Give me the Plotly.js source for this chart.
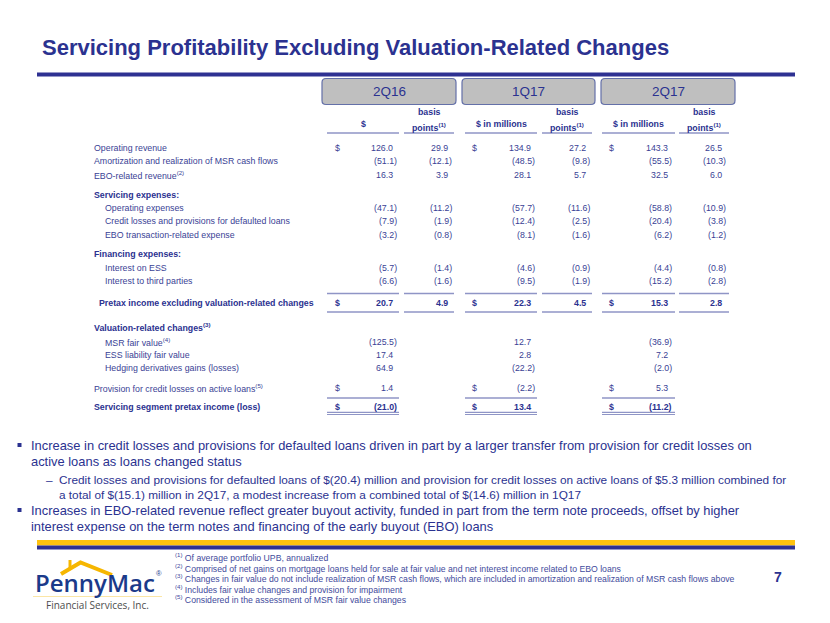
<!DOCTYPE html>
<html><head><meta charset="utf-8">
<script src="https://cdn.plot.ly/plotly-3.0.1.min.js"></script>
<style>html,body{margin:0;padding:0;background:#fff}#chart{width:830px;height:623px}</style>
</head><body><div id="chart"></div>
<script>
// ---------- DATA ----------
const periods = ['2Q16', '1Q17', '2Q17'];
const dollarHeaders = ['$', '$ in millions', '$ in millions'];
const rowLabels = [
  'Operating revenue',
  'Amortization and realization of MSR cash flows',
  'EBO-related revenue<sup>(2)</sup>',
  'Servicing expenses:',
  'Operating expenses',
  'Credit losses and provisions for defaulted loans',
  'EBO transaction-related expense',
  'Financing expenses:',
  'Interest on ESS',
  'Interest to third parties',
  'Pretax income excluding valuation-related changes',
  'Valuation-related changes<sup>(3)</sup>',
  'MSR fair value<sup>(4)</sup>',
  'ESS liability fair value',
  'Hedging derivatives gains (losses)',
  'Provision for credit losses on active loans<sup>(5)</sup>',
  'Servicing segment pretax income (loss)'
];
const q216Dollars = [126.0, -51.1, 16.3, null, -47.1, -7.9, -3.2, null, -5.7, -6.6, 20.7, null, -125.5, 17.4, 64.9, 1.4, -21.0];
const q216Bps     = [29.9, -12.1, 3.9, null, -11.2, -1.9, -0.8, null, -1.4, -1.6, 4.9, null, null, null, null, null, null];
const q117Dollars = [134.9, -48.5, 28.1, null, -57.7, -12.4, -8.1, null, -4.6, -9.5, 22.3, null, 12.7, 2.8, -22.2, -2.2, 13.4];
const q117Bps     = [27.2, -9.8, 5.7, null, -11.6, -2.5, -1.6, null, -0.9, -1.9, 4.5, null, null, null, null, null, null];
const q217Dollars = [143.3, -55.5, 32.5, null, -58.8, -20.4, -6.2, null, -4.4, -15.2, 15.3, null, -36.9, 7.2, -2.0, 5.3, -11.2];
const q217Bps     = [26.5, -10.3, 6.0, null, -10.9, -3.8, -1.2, null, -0.8, -2.8, 2.8, null, null, null, null, null, null];
const dollarSignRows = [0, 10, 15, 16];

const titleText = 'Servicing Profitability Excluding Valuation-Related Changes';
const bulletLines = [
  'Increase in credit losses and provisions for defaulted loans driven in part by a larger transfer from provision for credit losses on',
  'active loans as loans changed status',
  'Credit losses and provisions for defaulted loans of $(20.4) million and provision for credit losses on active loans of $5.3 million combined for',
  'a total of $(15.1) million in 2Q17, a modest increase from a combined total of $(14.6) million in 1Q17',
  'Increases in EBO-related revenue reflect greater buyout activity, funded in part from the term note proceeds, offset by higher',
  'interest expense on the term notes and financing of the early buyout (EBO) loans'
];
const footnotes = [
  '<sup>(1)</sup> Of average portfolio UPB, annualized',
  '<sup>(2)</sup> Comprised of net gains on mortgage loans held for sale at fair value and net interest income related to EBO loans',
  '<sup>(3)</sup> Changes in fair value do not include realization of MSR cash flows, which are included in amortization and realization of MSR cash flows above',
  '<sup>(4)</sup> Includes fair value changes and provision for impairment',
  '<sup>(5)</sup> Considered in the assessment of MSR fair value changes'
];
const pageNumber = '7';

// ---------- LAYOUT / STYLE ----------
const navy = '#2b3290';
const txt = '#3a3f95';
const lineC = '#8f95c6';
const sans = '"Liberation Sans", Arial, sans-serif';
const logoFont = '"Open Sans", "Noto Sans", sans-serif';
const rowY = [147.5, 160.7, 174.5, 195, 208, 221.3, 234.7, 254.3, 268, 281.2, 302.8, 326.5, 341.8, 355, 368.2, 388, 407.2];
const rowLevel = [0,0,0,0,1,1,1,0,1,1,0.5,0,1,1,1,0,0];
const rowBold = [0,0,0,1,0,0,0,1,0,0,1,1,0,0,0,0,1];
const labelX = [92, 102.5, 97];
const boxes = [[322, 456], [462, 595], [601, 735]];
const dSpan = [[327, 399], [465, 537], [602, 675]];
const bSpan = [[404, 454], [542, 592], [679, 729]];
const signX = [333, 470, 607];
const dRight = [398.5, 536.5, 673.5];
const bRight = [453.5, 591.5, 727.5];

const ann = [];
const shapes = [];
function A(x, y, text, o) {
  ann.push(Object.assign({x, y, text, xref: 'x', yref: 'y', showarrow: false,
    xanchor: 'left', yanchor: 'middle', font: {family: sans, size: 8.8, color: txt}}, o || {}));
}
function L(x0, x1, y, w, c) {
  shapes.push({type: 'line', xref: 'x', yref: 'y', x0, x1, y0: y, y1: y, line: {color: c || lineC, width: w || 1.6}});
}

// title + rule
A(40, 47, '<b>' + titleText + '</b>', {font: {family: sans, size: 22, color: navy}});
shapes.push({type: 'rect', xref: 'x', yref: 'y', x0: 37, x1: 795, y0: 72.5, y1: 76.5, fillcolor: '#2e3192', line: {width: 0}});

// period boxes
boxes.forEach((b, i) => {
  const x0 = b[0], x1 = b[1], y0 = 78.5, y1 = 104.5, r = 4;
  shapes.push({type: 'path', xref: 'x', yref: 'y',
    path: `M ${x0 + r} ${y0} L ${x1 - r} ${y0} Q ${x1} ${y0} ${x1} ${y0 + r} L ${x1} ${y1 - r} Q ${x1} ${y1} ${x1 - r} ${y1} L ${x0 + r} ${y1} Q ${x0} ${y1} ${x0} ${y1 - r} L ${x0} ${y0 + r} Q ${x0} ${y0} ${x0 + r} ${y0} Z`,
    fillcolor: '#bfbfbf', line: {color: '#6470a8', width: 1.2}});
  A((x0 + x1) / 2, 91.5, periods[i], {xanchor: 'center', font: {family: sans, size: 13.5, color: navy}});
  A((dSpan[i][0] + dSpan[i][1]) / 2, 123.5, '<b>' + dollarHeaders[i] + '</b>', {xanchor: 'center', font: {family: sans, size: 8.8, color: navy}});
  A((bSpan[i][0] + bSpan[i][1]) / 2, 112, '<b>basis</b>', {xanchor: 'center', font: {family: sans, size: 8.8, color: navy}});
  A((bSpan[i][0] + bSpan[i][1]) / 2, 126.5, '<b>points<sup>(1)</sup></b>', {xanchor: 'center', font: {family: sans, size: 8.8, color: navy}});
  L(dSpan[i][0], dSpan[i][1], 133);
  L(bSpan[i][0], bSpan[i][1], 133);
});

// row labels
rowLabels.forEach((lab, r) => {
  const x = rowLevel[r] === 1 ? labelX[1] : (rowLevel[r] === 0.5 ? labelX[2] : labelX[0]);
  A(x, rowY[r], rowBold[r] ? '<b>' + lab + '</b>' : lab, {font: {family: sans, size: 8.8, color: rowBold[r] ? navy : txt}});
});

// values
function fmt(v) { return v < 0 ? '(' + Math.abs(v).toFixed(1) + ')' : v.toFixed(1); }
const dCols = [q216Dollars, q117Dollars, q217Dollars];
const bCols = [q216Bps, q117Bps, q217Bps];
for (let c = 0; c < 3; c++) {
  for (let r = 0; r < rowLabels.length; r++) {
    const bold = rowBold[r];
    const f = {family: sans, size: 8.8, color: bold ? navy : txt};
    const wrap = s => bold ? '<b>' + s + '</b>' : s;
    const dv = dCols[c][r], bv = bCols[c][r];
    if (dv !== null) A(dRight[c] - (dv < 0 ? 0 : 3.5), rowY[r], wrap(fmt(dv)), {xanchor: 'right', font: f});
    if (bv !== null) A(bRight[c] - (bv < 0 ? 0 : 3.5), rowY[r], wrap(fmt(bv)), {xanchor: 'right', font: f});
    if (dollarSignRows.includes(r)) A(signX[c], rowY[r], wrap('$'), {font: f});
  }
  // subtotal rules
  L(dSpan[c][0], dSpan[c][1], 293.5); L(bSpan[c][0], bSpan[c][1], 293.5);
  L(dSpan[c][0], dSpan[c][1], 312); L(bSpan[c][0], bSpan[c][1], 312);
  L(dSpan[c][0], dSpan[c][1], 398);
  L(dSpan[c][0], dSpan[c][1], 412.3, 1.2); L(dSpan[c][0], dSpan[c][1], 414.5, 1.2);
}

// bullets
const bulletY = [445, 461, 479.5, 494.5, 510, 526];
const bulletX = [29, 29, 57, 57, 29, 29];
const bulletSize = [12.9, 12.9, 11.8, 11.8, 12.9, 12.9];
bulletLines.forEach((t, i) => A(bulletX[i], bulletY[i], t, {font: {family: sans, size: bulletSize[i], color: navy}}));
[445, 510].forEach(y => shapes.push({type: 'rect', xref: 'x', yref: 'y', x0: 17.5, x1: 21.5, y0: y - 2, y1: y + 2, fillcolor: navy, line: {width: 0}}));
A(44, 479.5, '–', {font: {family: sans, size: 11.8, color: navy}});

// footer bars
shapes.push({type: 'rect', xref: 'x', yref: 'y', x0: 37, x1: 795, y0: 540, y1: 545.5, fillcolor: '#ffc20e', line: {width: 0}});
shapes.push({type: 'rect', xref: 'x', yref: 'y', x0: 37, x1: 795, y0: 545.5, y1: 549.5, fillcolor: '#2e3192', line: {width: 0}});

// footnotes
const fnY = [557, 567.5, 578, 588.5, 599];
footnotes.forEach((t, i) => A(173, fnY[i], t, {font: {family: sans, size: 8.7, color: '#3f4b9c'}}));
A(778, 577, '<b>' + pageNumber + '</b>', {xanchor: 'center', font: {family: sans, size: 14, color: navy}});

// logo
shapes.push({type: 'line', xref: 'x', yref: 'y', x0: 33, x1: 162, y0: 596.5, y1: 596.5, line: {color: '#fbe6a6', width: 1}});
shapes.push({type: 'path', xref: 'x', yref: 'y', path: 'M 61 574 L 80.5 562.5 L 112 575', line: {color: '#f6b600', width: 4}});
shapes.push({type: 'rect', xref: 'x', yref: 'y', x0: 68.5, x1: 71.5, y0: 560, y1: 568, fillcolor: '#f6b600', line: {width: 0}});
A(95, 582, 'PennyMac', {xanchor: 'center', font: {family: logoFont, size: 24, color: '#1b3a8a', weight: 600}});
A(158.5, 573.5, '®', {xanchor: 'center', font: {family: sans, size: 7.5, color: '#1b3a8a'}});
A(97, 604.5, 'Financial Services, Inc.', {xanchor: 'center', font: {family: logoFont, size: 10, color: '#4d4d4d'}});

const layout = {
  width: 830, height: 623, margin: {l: 0, r: 0, t: 0, b: 0},
  paper_bgcolor: '#ffffff', plot_bgcolor: '#ffffff', showlegend: false,
  xaxis: {range: [0, 830], visible: false, fixedrange: true},
  yaxis: {range: [623, 0], visible: false, fixedrange: true},
  annotations: ann, shapes: shapes
};
Plotly.newPlot('chart', [{x: [], y: [], type: 'scatter', mode: 'markers', hoverinfo: 'skip'}], layout, {staticPlot: true, displayModeBar: false});
</script></body></html>
